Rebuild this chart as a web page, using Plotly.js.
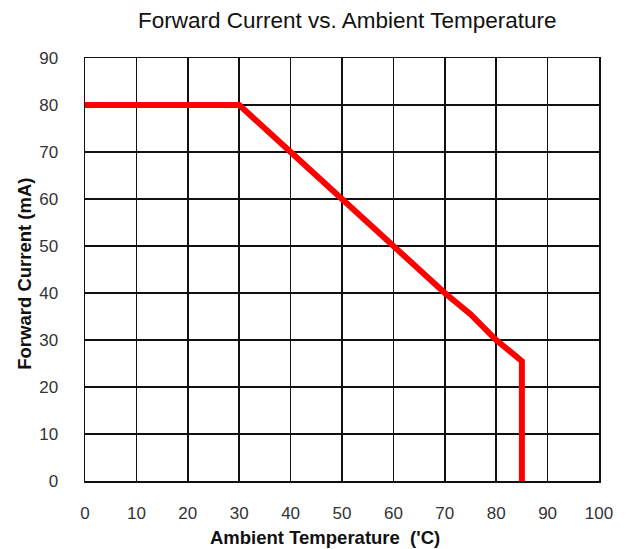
<!DOCTYPE html>
<html><head><meta charset="utf-8">
<script src="https://cdn.plot.ly/plotly-3.0.1.min.js"></script>
<style>body{margin:0;background:#fff}#c{width:630px;height:549px}</style>
</head><body><div id="c"></div>
<script>
const temperature = [0, 30, 40, 50, 60, 70, 75, 80, 85, 85];
const current = [80, 80, 70, 60, 50, 40, 35.5, 30, 25.5, 0];
const xTicks = [0,10,20,30,40,50,60,70,80,90,100];
const yTicks = [0,10,20,30,40,50,60,70,80,90];
const font = 'Liberation Sans, Arial, sans-serif';
Plotly.newPlot('c', [{
  x: temperature, y: current, mode: 'lines', type: 'scatter',
  line: {color: '#ff0000', width: 6}, hoverinfo: 'skip'
}], {
  width: 630, height: 549,
  margin: {l: 85, r: 31, t: 58, b: 68},
  paper_bgcolor: '#fff', plot_bgcolor: '#fff',
  showlegend: false,
  annotations: [
    {text: 'Forward Current vs. Ambient Temperature', xref: 'paper', yref: 'paper', x: 0.511, y: 1.0, yshift: 38,
     xanchor: 'center', yanchor: 'middle', showarrow: false, font: {family: font, size: 22.5, color: '#111'}},
    {text: 'Ambient Temperature  (\'C)', xref: 'paper', yref: 'paper', x: 0.467, y: 0, yshift: -56,
     xanchor: 'center', yanchor: 'middle', showarrow: false, font: {family: font, size: 18.5, color: '#111', weight: 'bold'}},
    {text: 'Forward Current (mA)', xref: 'paper', yref: 'paper', x: 0, xshift: -60, y: 0.49,
     xanchor: 'center', yanchor: 'middle', textangle: -90, showarrow: false, font: {family: font, size: 18.5, color: '#111', weight: 'bold'}}
  ],
  xaxis: {range: [0, 100], tickvals: xTicks, ticktext: xTicks.map(String), showgrid: true, gridcolor: '#111', gridwidth: 1.5,
    zeroline: false, showline: true, linecolor: '#111', linewidth: 1.5, mirror: true, ticks: '',
    tickfont: {family: font, size: 17, color: '#333'}, ticklabelstandoff: 16},
  yaxis: {range: [0, 90], tickvals: yTicks, ticktext: yTicks.map(String), showgrid: true, gridcolor: '#111', gridwidth: 1.5,
    zeroline: false, showline: true, linecolor: '#111', linewidth: 1.5, mirror: true, ticks: '',
    tickfont: {family: font, size: 17, color: '#333'}, ticklabelstandoff: 22}
}, {staticPlot: true, displayModeBar: false});
</script></body></html>
